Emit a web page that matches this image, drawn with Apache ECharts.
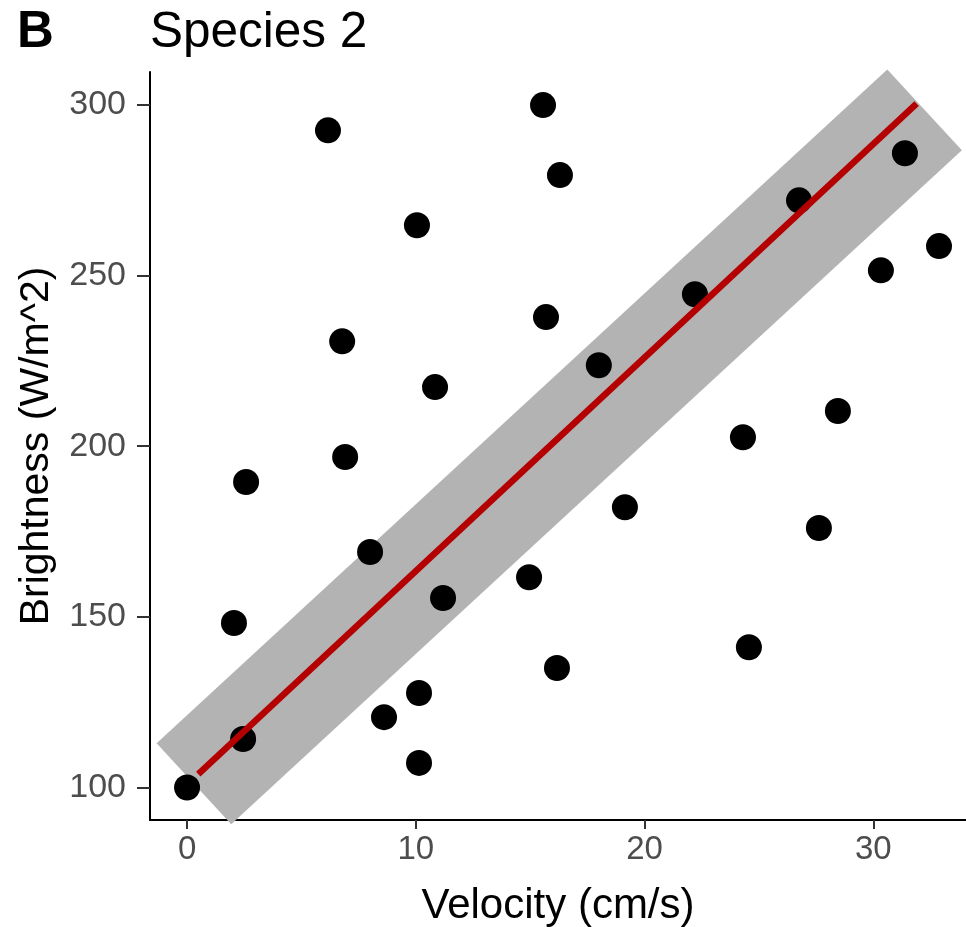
<!DOCTYPE html>
<html>
<head>
<meta charset="utf-8">
<script src="https://cdn.jsdelivr.net/npm/echarts@6/dist/echarts.min.js"></script>
<style>
html,body{margin:0;padding:0;background:#fff;}
#chart{width:966px;height:927px;}
</style>
</head>
<body>
<div id="chart"></div>
<script>
// Data
var velocity = [0, 2.45, 2.05, 2.58, 6.16, 6.78, 6.91, 8.0, 8.61, 10.05, 10.14, 10.14, 10.84, 11.19, 14.95, 15.56, 15.69, 16.17, 16.3, 18.0, 19.14, 22.2, 24.3, 24.56, 26.75, 27.62, 28.45, 30.33, 31.38, 32.87];
var brightness = [100, 114.2, 148.2, 189.5, 292.5, 230.7, 196.8, 169.0, 120.6, 264.7, 127.7, 107.2, 217.3, 155.5, 161.6, 299.9, 237.8, 135.0, 279.4, 223.7, 182.1, 244.5, 202.6, 141.1, 272.0, 176.0, 210.3, 251.5, 285.8, 258.6];
var fitX = [0.49, 31.89];
var fitY = [103.95, 300.35];
var bandX = [0.30, 32.24];
var bandY = [101.1, 298.5];
var xTicks = [0, 10, 20, 30];
var yTicks = [100, 150, 200, 250, 300];

var FONT = '"Liberation Sans", Arial, Helvetica, sans-serif';

function zip(a, b) { return a.map(function (v, i) { return [v, b[i]]; }); }

var chart = echarts.init(document.getElementById('chart'), null, {renderer: 'canvas'});
chart.setOption({
  animation: false,
  backgroundColor: '#ffffff',
  grid: {left: 150, right: 0, top: 72, bottom: 107, containLabel: false, outerBoundsMode: 'none'},
  graphic: [
    {type: 'text', left: 17, top: 7, z: 10,
      style: {text: 'B', fontSize: 51, fontWeight: 'bold', fontFamily: FONT, fill: '#000'}},
    {type: 'text', left: 150, top: 8, z: 10,
      style: {text: 'Species 2', fontSize: 49.5, fontFamily: FONT, fill: '#000'}}
  ],
  xAxis: {
    type: 'value', min: -1.62, max: 34.05,
    name: 'Velocity (cm/s)', nameLocation: 'middle', nameGap: 65,
    nameTextStyle: {fontSize: 42, fontFamily: FONT, color: '#000'},
    axisLine: {show: true, onZero: false, lineStyle: {color: '#000', width: 2}},
    axisTick: {show: true, length: 9, customValues: xTicks, lineStyle: {color: '#333', width: 2}},
    axisLabel: {show: true, customValues: xTicks, fontSize: 33, fontFamily: FONT, color: '#4D4D4D', margin: 13},
    splitLine: {show: false}
  },
  yAxis: {
    type: 'value', min: 90.48, max: 309.6,
    name: 'Brightness (W/m^2)', nameLocation: 'middle', nameGap: 93,
    nameTextStyle: {fontSize: 41, fontFamily: FONT, color: '#000'},
    axisLine: {show: true, onZero: false, lineStyle: {color: '#000', width: 2}},
    axisTick: {show: true, length: 13, customValues: yTicks, lineStyle: {color: '#333', width: 2}},
    axisLabel: {show: true, customValues: yTicks, fontSize: 34, fontFamily: FONT, color: '#4D4D4D', margin: 24},
    splitLine: {show: false}
  },
  series: [
    {type: 'line', name: 'band', data: zip(bandX, bandY), z: 1, clip: false,
      symbol: 'none', silent: true,
      lineStyle: {color: '#B3B3B3', width: 110, cap: 'butt'}},
    {type: 'scatter', name: 'points', data: zip(velocity, brightness), z: 2,
      symbol: 'circle', symbolSize: 26, itemStyle: {color: '#000', opacity: 1}},
    {type: 'line', name: 'fit', data: zip(fitX, fitY), z: 3, clip: false,
      symbol: 'none', lineStyle: {color: '#B40000', width: 6.5, cap: 'butt'}}
  ]
});
</script>
</body>
</html>
